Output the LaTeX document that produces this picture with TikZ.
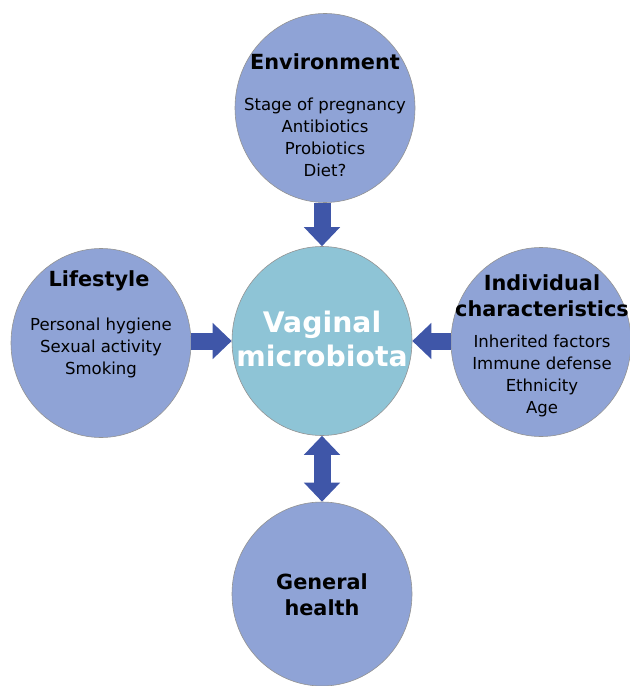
\documentclass[tikz,border=0pt]{standalone}
\usepackage{fontspec}
\setmainfont{DejaVu Sans}
\usetikzlibrary{shapes.geometric,arrows.meta}

\definecolor{circulo}{HTML}{8FA3D6}
\definecolor{centro}{HTML}{8EC4D6}
\definecolor{flecha}{HTML}{3F56A8}

\tikzset{
  factor/.style={ellipse,draw=gray!85,line width=0.6bp,fill=circulo,
    minimum width=180bp,minimum height=189bp,inner sep=0pt},
  titulo/.style={font=\bfseries\fontsize{20.9}{26}\selectfont,align=center,inner sep=0pt},
  lista/.style={font=\fontsize{16.6}{22}\selectfont,align=center,inner sep=0pt},
  bloque/.style={flecha,line width=17bp,-{Triangle[width=35bp,length=19bp]}},
  doble/.style={flecha,line width=17bp,{Triangle[width=35bp,length=19bp]}-{Triangle[width=35bp,length=19bp]}},
}

\begin{document}
\begin{tikzpicture}[x=1bp,y=-1bp]
    \useasboundingbox (0,0) rectangle (630,686);

    % círculos
    \node[factor] (env) at (325,108) {};
    \node[factor,fill=centro] (micro) at (322,341) {};
    \node[factor] (life) at (101,343) {};
    \node[factor] (indiv) at (541,342) {};
    \node[factor,minimum height=184bp] (health) at (322,594) {};

    % flechas
    \draw[bloque] (micro.north |- env.south) -- (micro.north);
    \draw[bloque] (life.east |- micro.west) -- (micro.west);
    \draw[bloque] (indiv.west |- micro.east) -- (micro.east);
    \draw[doble] (micro.south) -- (health.north -| micro.south);

    % textos
    \node[titulo] (envtitle) at (325,62) {Environment};
    \node[lista] (envlist) at (325,137) {Stage of pregnancy\\Antibiotics\\Probiotics\\Diet?};
    \node[titulo] (lifetitle) at (99,281) {Lifestyle};
    \node[lista] (lifelist) at (101,348) {Personal hygiene\\Sexual activity\\Smoking};
    \node[titulo] (indivtitle) at (542,296) {Individual\\characteristics};
    \node[lista] (indivlist) at (542,376) {Inherited factors\\Immune defense\\Ethnicity\\Age};
    \node[titulo,white,font=\bfseries\fontsize{28.4}{34}\selectfont] (microtitle) at (322,339) {Vaginal\\microbiota};
    \node[titulo] (healthtitle) at (322,595) {General\\health};
\end{tikzpicture}
\end{document}
